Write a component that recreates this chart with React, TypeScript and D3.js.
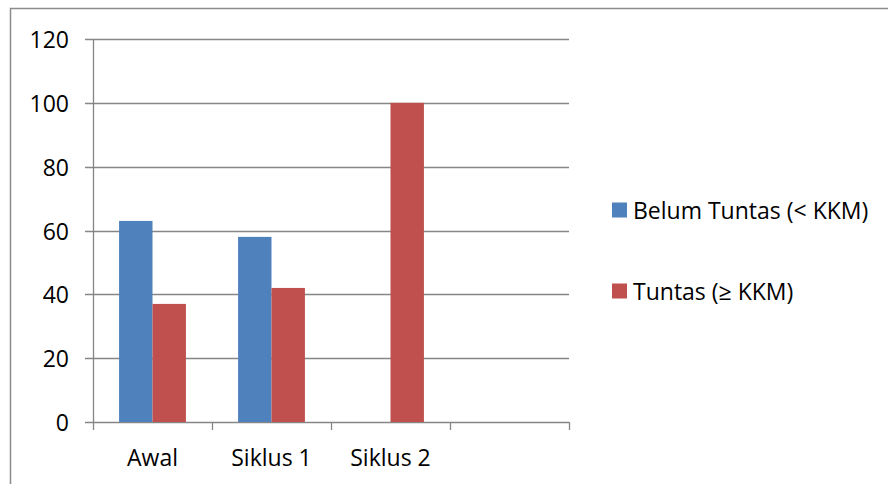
import React, { useRef, useEffect } from 'react';
import * as d3 from 'd3';

const CATEGORIES = ['Awal', 'Siklus 1', 'Siklus 2', ''];
const SERIES = ['Belum Tuntas (< KKM)', 'Tuntas (≥ KKM)'];
const BELUM = [63, 58, 0];
const TUNTAS = [37, 42, 100];
const Y_TICKS = [0, 20, 40, 60, 80, 100, 120];
const COLORS = ['#4F81BD', '#C0504D'];

const width = 888;
const height = 484;
const left = 93;
const right = 569;
const top = 39;
const bottom = 422;
const font = "'Open Sans', sans-serif";
const fontSize = 23;

const x = d3.scaleBand().domain(CATEGORIES).range([left, right]);
const xs = d3.scaleBand().domain(SERIES).range([0, x.bandwidth()]).paddingOuter(0.78);
const y = d3.scaleLinear().domain([0, 120]).range([bottom, top]);

function drawChart(node: SVGGElement) {
  const g = d3.select(node);
  g.selectAll('*').remove();

  // outer frame
  g.append('rect')
    .attr('x', 10.5).attr('y', 8.5)
    .attr('width', 900).attr('height', 500)
    .attr('fill', 'none').attr('stroke', '#8c8c8c').attr('stroke-width', 1.5);

  // gridlines + y ticks
  g.selectAll('line.grid')
    .data(Y_TICKS)
    .join('line')
    .attr('class', 'grid')
    .attr('x1', left - 8).attr('x2', right)
    .attr('y1', d => Math.round(y(d)) + 0.5).attr('y2', d => Math.round(y(d)) + 0.5)
    .attr('stroke', '#868686').attr('stroke-width', 1.3);

  g.selectAll('text.ylab')
    .data(Y_TICKS)
    .join('text')
    .attr('class', 'ylab')
    .attr('x', 69).attr('y', d => y(d))
    .attr('text-anchor', 'end')
    .attr('dominant-baseline', 'central')
    .attr('font-family', font).attr('font-size', fontSize)
    .attr('fill', '#000')
    .text(d => d);

  // bars
  const series = [BELUM, TUNTAS];
  series.forEach((vals, si) => {
    g.selectAll(`rect.s${si}`)
      .data(vals)
      .join('rect')
      .attr('class', `s${si}`)
      .attr('x', (d, i) => (x(CATEGORIES[i]) as number) + (xs(SERIES[si]) as number))
      .attr('width', xs.bandwidth())
      .attr('y', d => y(d))
      .attr('height', d => y(0) - y(d))
      .attr('fill', COLORS[si]);
  });

  // axes lines
  g.append('line')
    .attr('x1', left + 0.5).attr('x2', left + 0.5)
    .attr('y1', top).attr('y2', bottom)
    .attr('stroke', '#868686').attr('stroke-width', 1.3);

  const xTicks = [...CATEGORIES.map(c => x(c) as number), right];
  g.selectAll('line.xtick')
    .data(xTicks)
    .join('line')
    .attr('class', 'xtick')
    .attr('x1', d => Math.round(d) + 0.5).attr('x2', d => Math.round(d) + 0.5)
    .attr('y1', bottom).attr('y2', bottom + 8)
    .attr('stroke', '#868686').attr('stroke-width', 1.3);

  g.selectAll('text.xlab')
    .data(CATEGORIES)
    .join('text')
    .attr('class', 'xlab')
    .attr('x', d => (x(d) as number) + x.bandwidth() / 2)
    .attr('y', 466)
    .attr('text-anchor', 'middle')
    .attr('font-family', font).attr('font-size', fontSize)
    .attr('fill', '#000')
    .text(d => d);

  // legend
  const legendY = [210, 291];
  SERIES.forEach((s, i) => {
    g.append('rect')
      .attr('x', 612).attr('y', legendY[i] - 7.5)
      .attr('width', 15).attr('height', 15)
      .attr('fill', COLORS[i]);
    g.append('text')
      .attr('x', 633).attr('y', legendY[i])
      .attr('dominant-baseline', 'central')
      .attr('font-family', font).attr('font-size', fontSize)
      .attr('fill', '#000')
      .text(s);
  });
}

const App = () => {
  const ref = useRef<SVGGElement>(null);
  useEffect(() => {
    if (ref.current) drawChart(ref.current);
  }, []);
  return (
    <svg
      width={width}
      height={height}
      style={{ position: 'absolute', left: 0, top: 0, background: '#fff' }}
    >
      <g ref={ref}></g>
    </svg>
  );
};

export default App;
